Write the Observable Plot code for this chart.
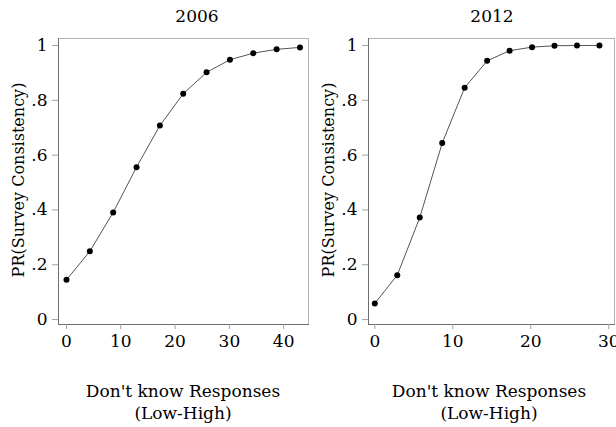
<!DOCTYPE html>
<html>
<head>
<meta charset="utf-8">
<script src="https://cdn.jsdelivr.net/npm/d3@7"></script>
<script src="https://cdn.jsdelivr.net/npm/@observablehq/plot@0.6"></script>
<style>
  body { margin: 0; background: #fff; }
  #wrap { position: relative; width: 616px; height: 427px; overflow: hidden; font-family: "DejaVu Serif", serif; color: #000; }
  .panel { position: absolute; top: 0; }
  .lbl { position: absolute; font-size: 17px; white-space: nowrap; text-align: center; line-height: 22px; }
  .ytitle { position: absolute; font-size: 16px; white-space: nowrap; transform: translate(-50%, -50%) rotate(-90deg); }
</style>
</head>
<body>
<div id="wrap"></div>
<script>
// ---- data ----
const panelTitles = ["2006", "2012"];
const yTitle = "PR(Survey Consistency)";
const xTitle = ["Don't know Responses", "(Low-High)"];

const dk2006 = [0, 4.3, 8.6, 12.9, 17.2, 21.5, 25.8, 30.1, 34.4, 38.7, 43];
const pr2006 = [0.145, 0.249, 0.391, 0.556, 0.708, 0.824, 0.902, 0.948, 0.972, 0.986, 0.993];

const dk2012 = [0, 2.88, 5.76, 8.64, 11.52, 14.4, 17.28, 20.16, 23.04, 25.92, 28.8];
const pr2012 = [0.059, 0.162, 0.372, 0.644, 0.846, 0.944, 0.981, 0.994, 0.999, 1.0, 1.0];

const yTicks = [0, 0.2, 0.4, 0.6, 0.8, 1];
const xTicks2006 = [0, 10, 20, 30, 40];
const xTicks2012 = [0, 10, 20, 30];

const yFmt = d => (d === 0 || d === 1) ? String(d) : d3.format(".1f")(d).replace(/^0/, "");

function panel(xs, ys, xTicks, xDomain, marginLeft, marginRight) {
  const data = xs.map((x, i) => ({x, y: ys[i]}));
  return Plot.plot({
    width: 308,
    height: 427,
    marginTop: 38,
    marginBottom: 103,
    marginLeft,
    marginRight,
    style: {fontFamily: "DejaVu Serif, serif", fontSize: "17px", color: "#000", background: "transparent", overflow: "visible"},
    x: {domain: xDomain},
    y: {domain: [-0.018, 1.0255]},
    marks: [
      Plot.frame({stroke: "#b4b4b4"}),
      Plot.frame({anchor: "left", stroke: "#6e6e6e"}),
      Plot.frame({anchor: "bottom", stroke: "#6e6e6e"}),
      Plot.axisY(yTicks, {tickSize: 6, tickPadding: 5, fontSize: 17, tickFormat: yFmt, label: null, stroke: "#a0a0a0", fill: "#000"}),
      Plot.axisX(xTicks, {tickSize: 5, tickPadding: 5, fontSize: 17, tickFormat: d => String(d), label: null, stroke: "#a0a0a0", fill: "#000"}),
      Plot.line(data, {x: "x", y: "y", stroke: "#555", strokeWidth: 1}),
      Plot.dot(data, {x: "x", y: "y", r: 3, fill: "#000", stroke: "none"})
    ]
  });
}

const wrap = document.getElementById("wrap");

const p1 = panel(dk2006, pr2006, xTicks2006, [-1.47, 44.57], 58, 0);
p1.classList.add("panel"); p1.style.left = "0px";
wrap.appendChild(p1);

const p2 = panel(dk2012, pr2012, xTicks2012, [-0.81, 30.73], 60, 2);
p2.classList.add("panel"); p2.style.left = "308px";
wrap.appendChild(p2);

function addText(cls, text, x, y, extra) {
  const d = document.createElement("div");
  d.className = cls;
  d.innerHTML = text;
  d.style.left = x + "px";
  d.style.top = y + "px";
  if (extra) Object.assign(d.style, extra);
  wrap.appendChild(d);
  return d;
}

// panel titles
addText("lbl", panelTitles[0], 197, 5, {transform: "translateX(-50%)"});
addText("lbl", panelTitles[1], 492, 5, {transform: "translateX(-50%)"});

// y titles
addText("ytitle", yTitle, 18, 180);
addText("ytitle", yTitle, 328, 180);

// x titles
const xt = xTitle.join("<br>");
addText("lbl", xt, 183, 380, {transform: "translateX(-50%)"});
addText("lbl", xt, 489, 380, {transform: "translateX(-50%)"});
</script>
</body>
</html>
